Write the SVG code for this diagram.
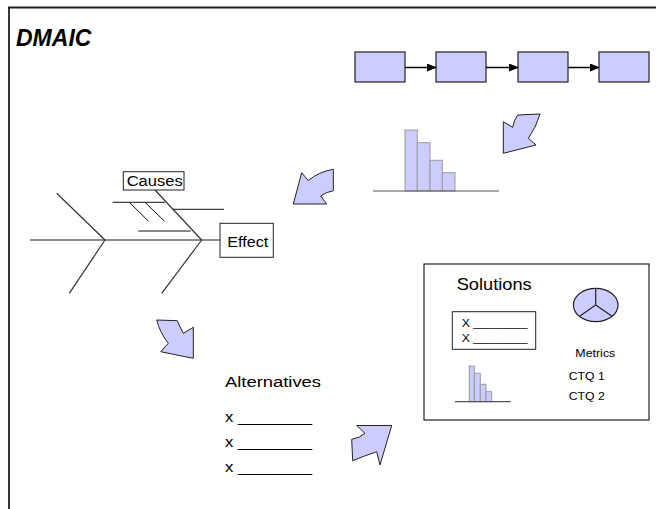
<svg xmlns="http://www.w3.org/2000/svg" width="656" height="509" viewBox="0 0 656 509">
<style>
.t{font-family:"Liberation Sans",Arial,sans-serif;fill:#000}
.box{fill:#CCCCFF;stroke:#222;stroke-width:1.2}
.bar{fill:#CCCCFF;stroke:#999;stroke-width:1}
.base{stroke:#555;stroke-width:1.2;fill:none}
.bone{stroke:#333;stroke-width:1.2;fill:none}
.thin{stroke:#111;stroke-width:1;fill:none}
.barrow{fill:#CCCCFF;stroke:#222;stroke-width:1;stroke-linejoin:miter}
.lbl{fill:#fff;stroke:#222;stroke-width:1}
</style>
<defs>
<marker id="ah" markerWidth="10" markerHeight="8" refX="9" refY="4" orient="auto" markerUnits="userSpaceOnUse">
<path d="M0,0 L10,4 L0,8 Z" fill="#000"/>
</marker>
</defs>
<rect width="656" height="509" fill="#fff"/>
<g id="frame">
<line x1="8" y1="7.5" x2="656" y2="7.5" stroke="#222" stroke-width="2"/>
<line x1="9" y1="7" x2="9" y2="509" stroke="#222" stroke-width="1.8"/>
</g>
<g id="title"><text class="t" x="16" y="46" font-size="23" font-weight="bold" font-style="italic">DMAIC</text></g>

<g id="process">
<rect id="p1" class="box" x="355" y="52" width="50" height="30"/>
<rect id="p2" class="box" x="436" y="52" width="50" height="30"/>
<rect id="p3" class="box" x="518" y="52" width="50" height="30"/>
<rect id="p4" class="box" x="599" y="52" width="50" height="30"/>
</g>
<g id="connectors">
<line x1="405" y1="67.5" x2="436" y2="67.5" stroke="#000" stroke-width="1.5" marker-end="url(#ah)"/>
<line x1="486" y1="67.5" x2="518" y2="67.5" stroke="#000" stroke-width="1.5" marker-end="url(#ah)"/>
<line x1="568" y1="67.5" x2="599" y2="67.5" stroke="#000" stroke-width="1.5" marker-end="url(#ah)"/>
</g>

<g id="histogram-top">
<rect class="bar" x="405" y="130" width="12.3" height="61"/>
<rect class="bar" x="417.3" y="142.7" width="12.7" height="48.3"/>
<rect class="bar" x="430" y="160.3" width="12.3" height="30.7"/>
<rect class="bar" x="442.3" y="172.7" width="12.7" height="18.3"/>
<line class="base" x1="373" y1="191" x2="499" y2="191"/>
</g>

<g id="arrow-1"><path class="barrow" d="M517.7,115 L540,114 Q536,128 528.3,138.3 L536,145 L503.3,153.3 L503.3,121.7 L512.7,127.3 Q514,120 517.7,115 Z"/></g>
<g id="arrow-2"><path class="barrow" d="M293.3,204 L301.7,172.7 L308.3,180.7 Q318,172 333.3,169.3 L333.3,190.7 Q326,192 320.7,196 L326.7,204 Z"/></g>
<g id="arrow-3"><path class="barrow" d="M156.7,320 L177.3,320.7 Q180,327 183.3,333.3 L193.3,327.3 L193.3,358.3 L160.7,351.7 L168.3,343.3 Q160,333 156.7,320 Z"/></g>
<g id="arrow-4"><path class="barrow" d="M391.7,425.5 L380,465 L376.7,451.7 Q364,456 352.7,460.7 L351.7,439.3 Q360,438 365,433.3 L356.7,425.5 Z"/></g>

<g id="fishbone">
<line x1="30" y1="240" x2="220" y2="240" stroke="#666" stroke-width="1.3"/>
<line class="bone" x1="56.7" y1="193.3" x2="105" y2="240"/>
<line class="bone" x1="155" y1="190" x2="201.7" y2="240"/>
<line class="bone" x1="105" y1="240" x2="69.3" y2="293.3"/>
<line class="bone" x1="201.7" y1="240" x2="161.7" y2="293.3"/>
<line class="thin" x1="112.7" y1="202.3" x2="165" y2="202.3"/>
<line class="thin" x1="172.7" y1="209.3" x2="224" y2="209.3"/>
<line class="thin" x1="138.3" y1="231" x2="190.7" y2="231"/>
<line class="thin" x1="129.3" y1="202.3" x2="148.3" y2="221"/>
<line class="thin" x1="145" y1="202.3" x2="164.3" y2="221"/>
</g>
<g id="causes">
<rect class="lbl" x="123.3" y="171.7" width="60.7" height="18.3"/>
<text class="t" x="126.7" y="185.5" font-size="14" textLength="56" lengthAdjust="spacingAndGlyphs">Causes</text>
</g>
<g id="effect">
<rect class="lbl" x="220" y="223.3" width="53.3" height="34"/>
<text class="t" x="227.3" y="246.7" font-size="15" textLength="41" lengthAdjust="spacingAndGlyphs">Effect</text>
</g>

<g id="alternatives">
<text class="t" x="225" y="387.3" font-size="15.5" textLength="96" lengthAdjust="spacingAndGlyphs">Alternatives</text>
<text class="t" x="225" y="422.3" font-size="14.5" textLength="87" lengthAdjust="spacingAndGlyphs">x ________</text>
<text class="t" x="225" y="447.3" font-size="14.5" textLength="87" lengthAdjust="spacingAndGlyphs">x ________</text>
<text class="t" x="225" y="472.3" font-size="14.5" textLength="87" lengthAdjust="spacingAndGlyphs">x ________</text>
</g>

<g id="solutions">
<rect x="424" y="264" width="225" height="156" fill="#fff" stroke="#222" stroke-width="1.2"/>
<text class="t" x="456.7" y="290" font-size="16.5" textLength="75" lengthAdjust="spacingAndGlyphs">Solutions</text>
<rect class="lbl" x="452.3" y="311.7" width="83.4" height="37.6"/>
<text class="t" x="461.7" y="327" font-size="11" textLength="66" lengthAdjust="spacingAndGlyphs">X ________</text>
<text class="t" x="461.7" y="342" font-size="11" textLength="66" lengthAdjust="spacingAndGlyphs">X ________</text>
<g id="pie">
<ellipse cx="595.7" cy="305" rx="22.3" ry="16.7" fill="#CCCCFF" stroke="#222" stroke-width="1.2"/>
<path d="M595.7,288.3 L595.7,305 L580,316 M595.7,305 L611.7,316" stroke="#222" stroke-width="1.2" fill="none"/>
</g>
<g id="histogram-small">
<rect class="bar" x="469.3" y="366" width="5" height="35.7"/>
<rect class="bar" x="474.3" y="373.3" width="6" height="28.4"/>
<rect class="bar" x="480.3" y="384.3" width="5.7" height="17.4"/>
<rect class="bar" x="486" y="391.7" width="5.7" height="10"/>
<line class="base" x1="455" y1="401.7" x2="510.7" y2="401.7"/>
</g>
<text class="t" x="575.3" y="357.3" font-size="11" textLength="40" lengthAdjust="spacingAndGlyphs">Metrics</text>
<text class="t" x="568.7" y="380" font-size="11" textLength="36" lengthAdjust="spacingAndGlyphs">CTQ 1</text>
<text class="t" x="568.7" y="400" font-size="11" textLength="36" lengthAdjust="spacingAndGlyphs">CTQ 2</text>
</g>
</svg>
